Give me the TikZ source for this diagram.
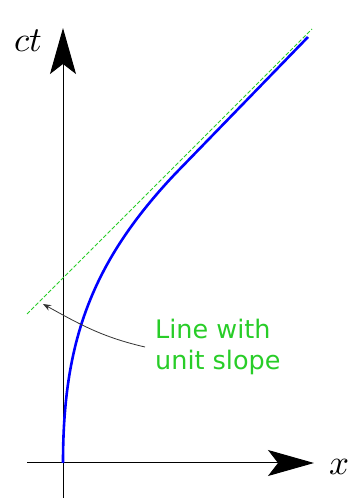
\documentclass[tikz,border=0pt]{standalone}
\usepackage{fontspec}
\newfontfamily\notefont{DejaVu Sans}
\usepackage{tikz}
\usetikzlibrary{arrows.meta, positioning}

\definecolor{slopegreen}{RGB}{40,205,40}
\definecolor{notegray}{RGB}{51,51,51}

\begin{document}
\begin{tikzpicture}[
    x=1pt, y=1pt,
    axis/.style={line width=1pt, -{Stealth[length=46pt, width=26pt, inset=10pt]}},
    axislabel/.style={anchor=base, inner sep=0pt, font=\normalsize, scale=3.5, transform shape},
    worldline/.style={blue, line width=2.6pt},
    unitline/.style={slopegreen, line width=1pt, dash pattern=on 4pt off 2pt},
    note/.style={slopegreen, align=left, anchor=west, inner xsep=10pt, inner ysep=0pt, font=\notefont\fontsize{25.5}{31}\selectfont},
    pointer/.style={notegray, line width=0.8pt, -{Stealth[length=8pt, width=6pt]}}
]
\useasboundingbox (0,0) rectangle (352,504);

% Coordinates
\coordinate (origin) at (63,41);
\coordinate (xstart) at (27,41);
\coordinate (xend) at (314,41);
\coordinate (ystart) at (63,6);
\coordinate (yend) at (63,476);
\coordinate (slopelow) at (27,190);
\coordinate (slopehigh) at (312,475);
\coordinate (bend) at (175,330);
\coordinate (top) at (308,467);
\coordinate (target) at (43,200);

% Axes
\draw[axis] (xstart) -- (xend);
\draw[axis] (ystart) -- (yend);
\node[axislabel] (xlabel) at (339,29) {$x$};
\node[axislabel] (ctlabel) at (28,452) {$ct$};

% Lines
\draw[unitline] (slopelow) -- (slopehigh);
\draw[worldline] (origin) .. controls (63,160) and (90,240) .. (bend) -- (top);

% Note
\node[note] (slopenote) at (145,157) {Line with\\unit slope};
\draw[pointer, out=167, in=-29] (slopenote.west) to (target);

\end{tikzpicture}
\end{document}
